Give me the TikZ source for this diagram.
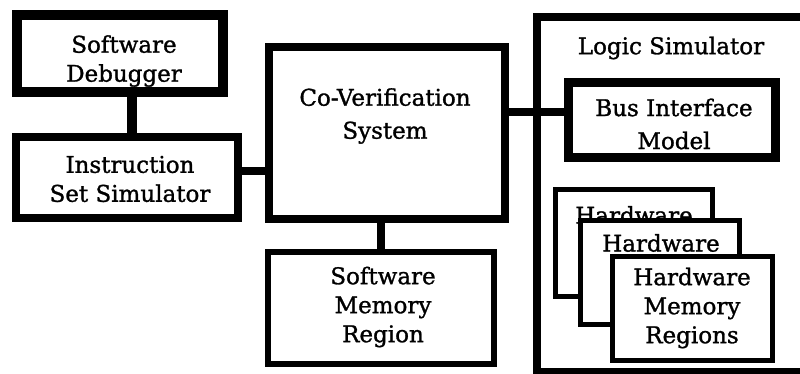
\documentclass[tikz,border=0pt]{standalone}
\usepackage{fontspec}
\setmainfont{DejaVu Serif}[FakeBold=1.2]
\begin{document}
\begin{tikzpicture}[x=1pt,y=-1pt,
  box/.style={draw=black,fill=white,rectangle,inner sep=0pt,outer sep=0pt},
  lbl/.style={align=center,inner sep=0pt,font=\fontsize{23}{29}\selectfont},
  conn/.style={draw=black,line cap=butt}]
\clip (0,0) rectangle (800,374);
\fill[white] (0,0) rectangle (800,374);

% left column
\node[box,line width=10pt,minimum width=206pt,minimum height=77pt] (dbg) at (120,53.5) {};
\node[lbl] (dbgt) at (124,61) {Software\\Debugger};
\node[box,line width=8pt,minimum width=222pt,minimum height=81pt] (iss) at (127,177.5) {};
\node[lbl] (isst) at (130,179) {Instruction\\Set Simulator};

% co-verification and software memory
\node[box,line width=8pt,minimum width=236pt,minimum height=172pt] (cov) at (387,133) {};
\node[lbl] (covt) at (385,116) {Co-Verification\\[4pt]System};
\node[box,line width=6pt,minimum width=226pt,minimum height=112pt] (swm) at (381,308) {};
\node[lbl] (swmt) at (383,307) {Software\\Memory\\Region};

% logic simulator with its models
\node[box,line width=8pt,minimum width=283pt,minimum height=355pt,anchor=north west] (ls) at (537,17) {};
\node[lbl] (lst) at (671,48) {Logic Simulator};
\node[box,line width=9pt,minimum width=207pt,minimum height=75pt] (bim) at (672,120) {};
\node[lbl] (bimt) at (674,124) {Bus Interface\\[4pt]Model};

\node[box,line width=5pt,minimum width=157pt,minimum height=107pt] (hw1) at (634,243) {};
\node[lbl] (hw1t) at (634,215) {Hardware};
\node[box,line width=5pt,minimum width=159pt,minimum height=104pt] (hw2) at (660,272.5) {};
\node[lbl] (hw2t) at (661,243) {Hardware};
\node[box,line width=5pt,minimum width=160pt,minimum height=104pt] (hw3) at (692.5,308.5) {};
\node[lbl] (hw3t) at (692,308) {Hardware\\Memory\\Regions};

% connectors
\draw[conn,line width=10pt] (dbg.south -| 132,0) -- (iss.north -| 132,0);
\draw[conn,line width=8pt] (iss.east |- 0,171) -- (cov.west |- 0,171);
\draw[conn,line width=8pt] (cov.south -| 381,0) -- (swm.north -| 381,0);
\draw[conn,line width=8pt] (cov.east |- 0,112) -- (bim.west |- 0,112);
\end{tikzpicture}
\end{document}
